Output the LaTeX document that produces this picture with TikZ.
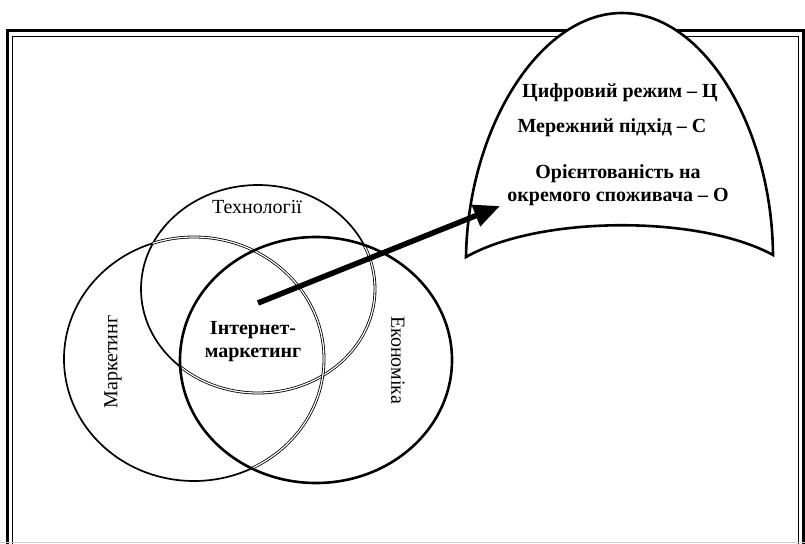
\documentclass[tikz,border=0pt]{standalone}
\usepackage{fontspec}
\setmainfont{Liberation Serif}
\usetikzlibrary{arrows.meta}
\begin{document}
\begin{tikzpicture}[x=1pt,y=-1pt,
  lbl/.style={font=\fontsize{20}{22}\selectfont, inner sep=0pt},
  blbl/.style={font=\fontsize{20}{23}\selectfont\bfseries, inner sep=0pt, align=center},
  sgl/.style={line width=1.7pt},
  dbl/.style={double, double distance=1.2pt, line width=0.8pt},
  thk/.style={line width=2.6pt},
  frameout/.style={line width=3pt},
  framein/.style={line width=1pt}]
\useasboundingbox (0,0) rectangle (805,543);
\clip (0,0) rectangle (805,543);
% frame
\draw[frameout] (7,570) -- (7,31) -- (803,31) -- (803,570);
\draw[framein] (12,570) -- (12,37) -- (798,37) -- (798,570);
\draw[line width=1pt, black!20] (0,542) -- (805,542);
% circles
\def\tech{(258,289) ellipse [x radius=117, y radius=104]}
\def\mark{(194,359) ellipse [x radius=130, y radius=122]}
\def\econ{(316,360) ellipse [x radius=136, y radius=123]}
\draw[sgl] \tech;
\draw[sgl] \mark;
\begin{scope}
  \clip \econ;
  \draw[dbl] \tech;
\end{scope}
\begin{scope}
  \clip (258,289) ellipse [x radius=117, y radius=104] (316,360) ellipse [x radius=136, y radius=123];
  \draw[dbl] \mark;
\end{scope}
\draw[thk] \econ;
% labels
\node[lbl] (tl) at (257,207) {Технології};
\node[lbl, rotate=90] (ml) at (113,362) {Маркетинг};
\node[lbl, rotate=-90] (el) at (398,360) {Економіка};
\node[blbl] (im) at (253,342) {Інтернет-\\маркетинг};
% shield
\draw[line width=2.6pt, fill=white] (466,257) .. controls (468,128) and (540,13) .. (622,13)
  .. controls (704,13) and (772,128) .. (773,255)
  .. controls (700,215) and (540,215) .. (466,257) -- cycle;
\node[blbl] (c) at (620,93) {Цифровий режим – Ц};
\node[blbl] (s) at (612,128) {Мережний підхід – С};
\node[blbl] (o) at (618,185) {Орієнтованість на\\окремого споживача – О};
% arrow
\coordinate (from) at (258,303);
\coordinate (to) at (500,206);
\draw[line width=5.5pt, -{Triangle[length=26pt, width=22pt]}] (from) -- (to);
\end{tikzpicture}
\end{document}
